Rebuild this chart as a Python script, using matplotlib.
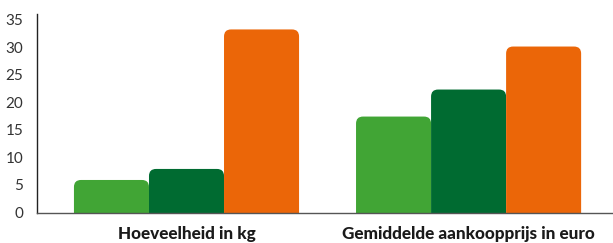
import matplotlib
matplotlib.use("Agg")
import matplotlib.pyplot as plt
from matplotlib.patches import FancyBboxPatch

categories = ["Hoeveelheid in kg", "Gemiddelde aankoopprijs in euro"]
series_a = [5.9, 17.4]   # light green
series_b = [7.9, 22.3]   # dark green
series_c = [33.2, 30.1]  # orange
yticks = [0, 5, 10, 15, 20, 25, 30, 35]
colors = ["#41a535", "#006b31", "#eb6608"]

W, H = 613, 243
fig = plt.figure(figsize=(W / 100, H / 100), dpi=100)
ax = fig.add_axes([37 / W, (H - 212.5) / H, (W - 37) / W, (212.5 - 14) / H])

bar_w = 0.266
offsets = [-bar_w, 0, bar_w]
xs = list(range(len(categories)))
ax.set_xlim(-0.530, 1.512)
ax.set_ylim(0, 36)

fig.canvas.draw()
p0 = ax.transData.transform((0, 0))
p1 = ax.transData.transform((1, 1))
px_x = p1[0] - p0[0]
px_y = p1[1] - p0[1]
radius_px = 7
rs = radius_px / px_x
aspect = (1 / px_y) / (1 / px_x)

for vals, off, col in zip([series_a, series_b, series_c], offsets, colors):
    bars = ax.bar([x + off for x in xs], vals, width=bar_w, color=col)
    for b in bars:
        b.set_visible(False)
        x0 = b.get_x()
        h = b.get_height()
        extra = 2
        patch = FancyBboxPatch((x0, -extra), b.get_width(), h + extra,
                               boxstyle=f"round,pad=0,rounding_size={rs}",
                               mutation_aspect=aspect, facecolor=col,
                               edgecolor="none", clip_on=True)
        ax.add_patch(patch)

ax.set_xticks(xs)
ax.set_xticklabels(categories, fontfamily="Lato", fontweight=900, fontsize=12.3, color="#1a1a1a")
ax.tick_params(axis="x", length=0, pad=10)
ax.set_yticks(yticks)
ax.set_yticklabels([str(v) for v in yticks], fontfamily="Lato", fontsize=11, color="#333333")
ax.tick_params(axis="y", length=0, pad=10)
for s in ["top", "right"]:
    ax.spines[s].set_visible(False)
ax.spines["left"].set_color("#222222")
ax.spines["left"].set_linewidth(1.0)
ax.spines["bottom"].set_color("#555555")
ax.spines["bottom"].set_linewidth(1.0)
ax.set_facecolor("white")

fig.savefig("out.png", dpi=100)
